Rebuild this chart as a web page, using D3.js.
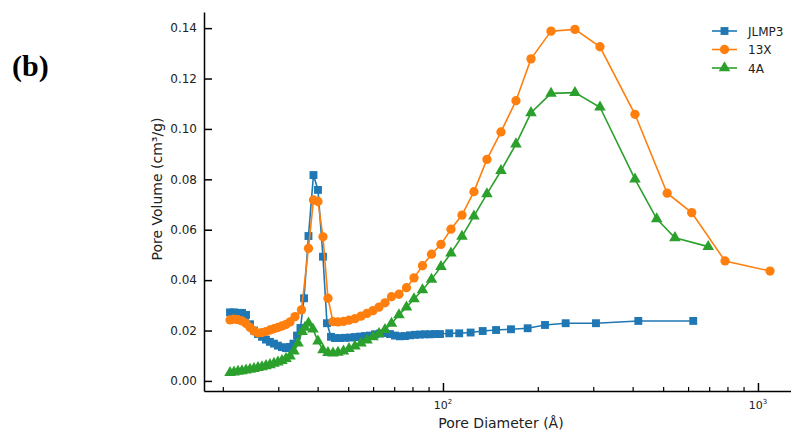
<!DOCTYPE html>
<html>
<head>
	<meta charset="utf-8">
	<title>Pore size distribution</title>
	<style type="text/css">
		body { margin: 0; background: #fff; }
		svg { display: block; font-family: "DejaVu Sans", sans-serif; }
		.axis path, .axis line { stroke: #000; }
		.axis text { fill: #222; }
	</style>
</head>
<body>
	<div id="chart"></div>
	<script src="https://d3js.org/d3.v7.min.js"></script>
	<script type="text/javascript">
		// JLMP3 (blue squares)
		var jlmpD = [21.08, 21.71, 22.35, 23.01, 23.70, 24.40, 25.12, 25.87, 26.63, 27.42, 28.23, 29.07, 29.93, 30.82, 31.74, 32.68,
			33.52, 34.40, 35.28, 36.21, 37.41, 38.80, 40.10, 41.59, 42.82, 44.10, 45.41, 47.10, 48.85, 50.67, 52.55, 54.52,
			56.55, 58.65, 60.83, 63.10, 65.45, 67.87, 70.40, 73.02, 75.74, 78.57, 81.50, 84.53, 87.68, 90.93, 94.32, 97.84,
			104.7, 112.6, 122.4, 133.7, 147.4, 164.4, 185.7, 210.8, 245.2, 306, 417, 623];
		var jlmpV = [0.0272, 0.0272, 0.0270, 0.0270, 0.0262, 0.0225, 0.0200, 0.0186, 0.0175, 0.0164, 0.0155, 0.0148, 0.0140, 0.0134, 0.0130, 0.0135,
			0.0148, 0.0180, 0.0210, 0.0328, 0.0575, 0.0817, 0.0758, 0.0493, 0.0229, 0.0175, 0.0170, 0.0170, 0.0171, 0.0172, 0.0174, 0.0176,
			0.0178, 0.0180, 0.0185, 0.0188, 0.0190, 0.0186, 0.0180, 0.0177, 0.0178, 0.0181, 0.0183, 0.0184, 0.0185, 0.0185, 0.0186, 0.0186,
			0.0189, 0.0189, 0.0192, 0.0198, 0.0202, 0.0205, 0.0209, 0.0222, 0.0229, 0.0229, 0.0238, 0.0238];

		// 13X (orange circles)
		var x13D = [21.08, 21.71, 22.35, 23.01, 23.70, 24.40, 25.12, 25.87, 26.63, 27.42, 28.23, 29.07, 29.93, 30.82, 31.74, 32.68,
			33.90, 35.54, 37.41, 38.80, 40.10, 41.59, 43.14, 44.75, 46.42, 48.32, 50.30, 52.55, 54.92, 57.38, 59.95, 62.63,
			65.45, 68.63, 72.49, 76.58, 80.90, 86.08, 91.94, 98.55, 106.0, 114.9, 125.4, 137.9, 152.8, 170.5, 190.3, 220.3,
			262.4, 315.1, 406.9, 515, 616, 786, 1092];
		var x13V = [0.0242, 0.0245, 0.0243, 0.0238, 0.0228, 0.0212, 0.0198, 0.0190, 0.0192, 0.0196, 0.0202, 0.0207, 0.0212, 0.0218, 0.0224, 0.0234,
			0.0255, 0.0282, 0.0526, 0.0718, 0.0712, 0.0572, 0.0328, 0.0235, 0.0234, 0.0236, 0.0241, 0.0247, 0.0257, 0.0268, 0.0279, 0.0293,
			0.0310, 0.0334, 0.0344, 0.0370, 0.0409, 0.0457, 0.0503, 0.0542, 0.0602, 0.0658, 0.0751, 0.0879, 0.0988, 0.1112, 0.1278, 0.1388,
			0.1395, 0.1326, 0.1058, 0.0745, 0.0668, 0.0476, 0.0436];

		// 4A (green triangles)
		var a4D = [21.08, 21.71, 22.35, 23.01, 23.70, 24.40, 25.12, 25.87, 26.63, 27.42, 28.23, 29.07, 29.93, 30.82, 31.74, 32.68,
			33.65, 34.65, 35.72, 36.47, 37.41, 38.64, 40.10, 41.59, 43.14, 44.75, 46.42, 48.32, 50.30, 52.55, 54.92, 57.38,
			59.95, 62.63, 65.45, 68.63, 72.49, 76.58, 80.90, 86.08, 91.94, 98.55, 106.0, 114.9, 125.4, 137.9, 152.8, 170.5,
			190.3, 220.3, 262.4, 315.1, 406.9, 477, 545, 695];
		var a4V = [0.0033, 0.0035, 0.0038, 0.0040, 0.0043, 0.0046, 0.0049, 0.0053, 0.0056, 0.0060, 0.0064, 0.0069, 0.0074, 0.0080, 0.0088, 0.0098,
			0.0118, 0.0150, 0.0195, 0.0212, 0.0229, 0.0205, 0.0158, 0.0123, 0.0112, 0.0110, 0.0113, 0.0118, 0.0128, 0.0138, 0.0150, 0.0162,
			0.0175, 0.0187, 0.0203, 0.0228, 0.0262, 0.0293, 0.0325, 0.0361, 0.0403, 0.0453, 0.0507, 0.0573, 0.0654, 0.0742, 0.0834, 0.0940,
			0.1064, 0.1141, 0.1144, 0.1086, 0.0801, 0.0643, 0.0568, 0.0533];

		var seriesNames = ["JLMP3", "13X", "4A"];
		var seriesColors = ["#1f77b4", "#ff7f0e", "#2ca02c"];
		var yTicks = [0, 0.02, 0.04, 0.06, 0.08, 0.10, 0.12, 0.14];
		var xMajor = [100, 1000];
		var xMinor = [20, 30, 40, 50, 60, 70, 80, 90, 200, 300, 400, 500, 600, 700, 800, 900];

		var width = 791, height = 432;

		var svg = d3.select("#chart").append("svg")
			.attr("width", width)
			.attr("height", height);

		var x = d3.scaleLog().domain([17.43, 1340]).range([204, 798]),
			y = d3.scaleLinear().domain([-0.004, 0.1464]).range([391, 12]);

		// panel letter
		svg.append("text")
			.attr("x", 12).attr("y", 76)
			.style("font-family", "'Liberation Serif', 'Times New Roman', serif")
			.style("font-weight", "bold")
			.style("font-size", "30px")
			.text("(b)");

		// y axis, ticks inward
		var gy = svg.append("g").attr("class", "axis")
			.attr("transform", "translate(204,0)")
			.call(d3.axisLeft(y).tickValues(yTicks).tickFormat(d3.format(".2f"))
				.tickSizeInner(-8).tickSizeOuter(0).tickPadding(7));
		gy.selectAll("text").style("font-size", "12px").style("font-family", "'DejaVu Sans', sans-serif");
		gy.select(".domain").attr("stroke-width", 1.5);
		gy.selectAll(".tick line").attr("stroke-width", 1.5);

		// x axis
		var gx = svg.append("g").attr("class", "axis")
			.attr("transform", "translate(0,391)")
			.call(d3.axisBottom(x).tickValues(xMajor).tickFormat("")
				.tickSizeInner(-8).tickSizeOuter(0));
		gx.select(".domain").attr("stroke-width", 1.5);
		gx.selectAll(".tick line").attr("stroke-width", 1.5);

		var gxm = svg.append("g").attr("class", "axis")
			.attr("transform", "translate(0,391)")
			.call(d3.axisBottom(x).tickValues(xMinor).tickFormat("")
				.tickSizeInner(-4).tickSizeOuter(0));
		gxm.select(".domain").remove();
		gxm.selectAll(".tick line").attr("stroke-width", 1.2);

		// 10^n labels
		var xl = svg.append("g").selectAll("text")
			.data(xMajor).enter().append("text")
			.attr("x", function(d) { return x(d); })
			.attr("y", 409)
			.attr("text-anchor", "middle")
			.style("font-size", "11px")
			.style("fill", "#222");
		xl.append("tspan").text("10");
		xl.append("tspan").attr("dy", "-5").style("font-size", "7px")
			.text(function(d) { return Math.round(Math.log10(d)); });

		// axis titles
		svg.append("text")
			.attr("x", 501).attr("y", 428)
			.attr("text-anchor", "middle")
			.style("font-size", "14px").style("fill", "#222")
			.text("Pore Diameter (Å)");

		svg.append("text")
			.attr("transform", "translate(162,189) rotate(-90)")
			.attr("text-anchor", "middle")
			.style("font-size", "14px").style("fill", "#222")
			.text("Pore Volume (cm³/g)");

		var series = [
			{ name: seriesNames[0], color: seriesColors[0], shape: d3.symbolSquare, size: 62, d: jlmpD, v: jlmpV },
			{ name: seriesNames[1], color: seriesColors[1], shape: d3.symbolCircle, size: 68, d: x13D, v: x13V },
			{ name: seriesNames[2], color: seriesColors[2], shape: d3.symbolTriangle, size: 58, d: a4D, v: a4V }
		];

		var line = d3.line()
			.x(function(p) { return x(p[0]); })
			.y(function(p) { return y(p[1]); });

		series.forEach(function(s) {
			var pts = s.d.map(function(d, i) { return [d, s.v[i]]; });
			var g = svg.append("g");
			g.append("path")
				.datum(pts)
				.attr("d", line)
				.attr("fill", "none")
				.attr("stroke", s.color)
				.attr("stroke-width", 1.6);
			g.selectAll("path.pt")
				.data(pts).enter().append("path")
				.attr("class", "pt")
				.attr("transform", function(p) { return "translate(" + x(p[0]) + "," + y(p[1]) + ")"; })
				.attr("d", d3.symbol().type(s.shape).size(s.size))
				.attr("fill", s.color);
		});

		// legend
		var lg = svg.append("g").selectAll("g")
			.data(series).enter().append("g")
			.attr("transform", function(s, i) { return "translate(712," + (31 + i * 18.5) + ")"; });
		lg.append("line")
			.attr("x1", 0).attr("x2", 25)
			.attr("stroke", function(s) { return s.color; })
			.attr("stroke-width", 1.6);
		lg.append("path")
			.attr("transform", "translate(12.5,0)")
			.attr("d", function(s) { return d3.symbol().type(s.shape).size(s.size)(); })
			.attr("fill", function(s) { return s.color; });
		lg.append("text")
			.attr("x", 36).attr("y", 4.5)
			.style("font-size", "12px").style("fill", "#222")
			.text(function(s) { return s.name; });
	</script>
</body>
</html>
